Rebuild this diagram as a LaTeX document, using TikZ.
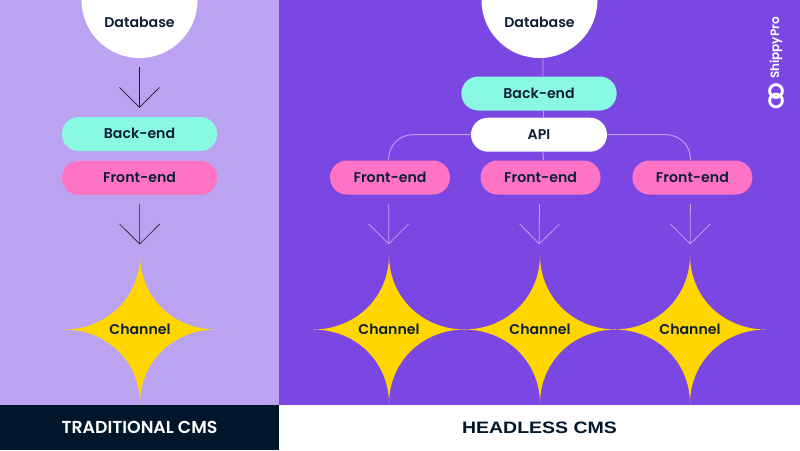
\documentclass[tikz,border=0pt]{standalone}
\usepackage{fontspec}
\setmainfont{Poppins}[UprightFont=* SemiBold, BoldFont=* SemiBold]
\newfontfamily\titlefont{Liberation Sans}[UprightFont=* Bold, FakeStretch=1.18]
\usepackage{xcolor}
\usepackage{tikz}
\usetikzlibrary{arrows.meta,positioning,calc}
\definecolor{lilac}{HTML}{BBA3F2}
\definecolor{violet}{HTML}{7B47E3}
\definecolor{navy}{HTML}{00172B}
\definecolor{mint}{HTML}{8AF9E3}
\definecolor{pinky}{HTML}{FF73C6}
\definecolor{gold}{HTML}{FFD600}
\definecolor{inkblue}{HTML}{0F1F33}

\begin{document}
\begin{tikzpicture}[x=0.75pt, y=-0.75pt, >={Straight Barb[length=15pt, width=30pt]}]
        \tikzset{
            pill/.style={rounded corners=12.7pt, minimum height=25.5pt, inner sep=0pt, align=center, text=inkblue, text depth=0.9pt, font=\fontsize{10.6}{12}\selectfont},
            backend/.style={pill, fill=mint, minimum width=116.5pt},
            frontend/.style={pill, fill=pinky, minimum width=90pt},
            dbcircle/.style={circle, fill=white, minimum size=87pt, inner sep=0pt},
            tag/.style={text=inkblue, inner sep=0pt, font=\fontsize{10.6}{12}\selectfont},
            channel/.style={tag, minimum width=108pt, minimum height=107pt},
            title/.style={inner sep=0pt, font=\fontsize{13}{14}\selectfont},
            darkarrow/.style={->, draw=inkblue, line width=0.45pt},
            lightarrow/.style={->, draw=lilac, line width=0.6pt},
            link/.style={draw=lilac, line width=0.7pt},
        }
        \useasboundingbox (0,0) rectangle (800,450);

        % Panels
        \fill [lilac] (0,0) rectangle (279,405);
        \fill [violet] (279,0) rectangle (800,405);
        \fill [navy] (0,405) rectangle (279,450);
        \fill [white] (279,405) rectangle (800,450);

        % Channel stars
        \foreach \x/\name in {140/chleft, 389/cha, 540/chb, 690/chc} {
            \fill [gold] (\x,255) .. controls +(0,42.5) and +(-42.5,0) .. (\x+76,329.5)
                .. controls +(-42.5,0) and +(0,-42.5) .. (\x,404)
                .. controls +(0,-42.5) and +(42.5,0) .. (\x-76,329.5)
                .. controls +(42.5,0) and +(0,42.5) .. (\x,255) -- cycle;
            \node [channel] (\name) at (\x,329) {Channel};
        }

        % Traditional side
        \node [dbcircle] (dbleft) at (139.5,0) {};
        \node [tag] (dbleftlabel) at (139.5,22.5) {Database};
        \node [backend] (beleft) at (139.5,134) {Back-end};
        \node [frontend, minimum width=116.5pt, below=7pt of beleft] (feleft) {Front-end};

        % Headless side
        \node [dbcircle] (dbright) at (539.5,0) {};
        \node [tag] (dbrightlabel) at (539.5,22.5) {Database};
        \node [backend] (beright) at (539,93.5) {Back-end};
        \node [pill, fill=white, minimum width=102pt, below=5pt of beright] (api) {API};
        \node [frontend] (fea) at (390,177.5) {Front-end};
        \node [frontend, right=22.5pt of fea] (feb) {Front-end};
        \node [frontend, right=23.5pt of feb] (fec) {Front-end};

        % Connections
        \draw [darkarrow, shorten <=6.7pt, shorten >=6.7pt] (dbleft) -- (beleft);
        \draw [darkarrow, shorten <=7pt, shorten >=9.7pt] (feleft) -- (chleft);
        \draw [link] ([xshift=2.6pt]dbright.south) -- ([xshift=3pt]beright.north);
        \draw [link] ([xshift=3pt]beright.south) -- ([xshift=3pt]api.north);
        \draw [link] ([xshift=3pt]api.south) -- ([xshift=2.2pt]feb.north);
        \draw [link, rounded corners=18pt] (api.west) -| ([xshift=-1pt]fea.north);
        \draw [link, rounded corners=18pt] (api.east) -| ([xshift=-1.5pt]fec.north);
        \draw [lightarrow, shorten <=7pt, shorten >=9.7pt] ([xshift=-1pt]fea.south) -- (cha);
        \draw [lightarrow, shorten <=7pt, shorten >=9.7pt] ([xshift=-0.7pt]feb.south) -- ([xshift=-0.7pt]chb.north);
        \draw [lightarrow, shorten <=7pt, shorten >=9.7pt] ([xshift=-1.5pt]fec.south) -- (chc);

        % Titles
        \node [title, text=white] (tradtitle) at (139.5,427.5) {TRADITIONAL CMS};
        \node [title, text=navy, font=\fontsize{12.4}{14}\selectfont\titlefont] (headtitle) at (539.5,427.5) {HEADLESS CMS};

        % Logo
        \node [inner sep=0pt, text=white, rotate=90, font=\fontsize{9}{10}\selectfont] (logotext) at (776,48) {ShippyPro};
        \draw [white, line width=2.1pt] (776,91) circle [radius=4.8pt];
        \draw [white, line width=2.1pt] (776,100.5) circle [radius=4.8pt];
    \end{tikzpicture}
\end{document}
